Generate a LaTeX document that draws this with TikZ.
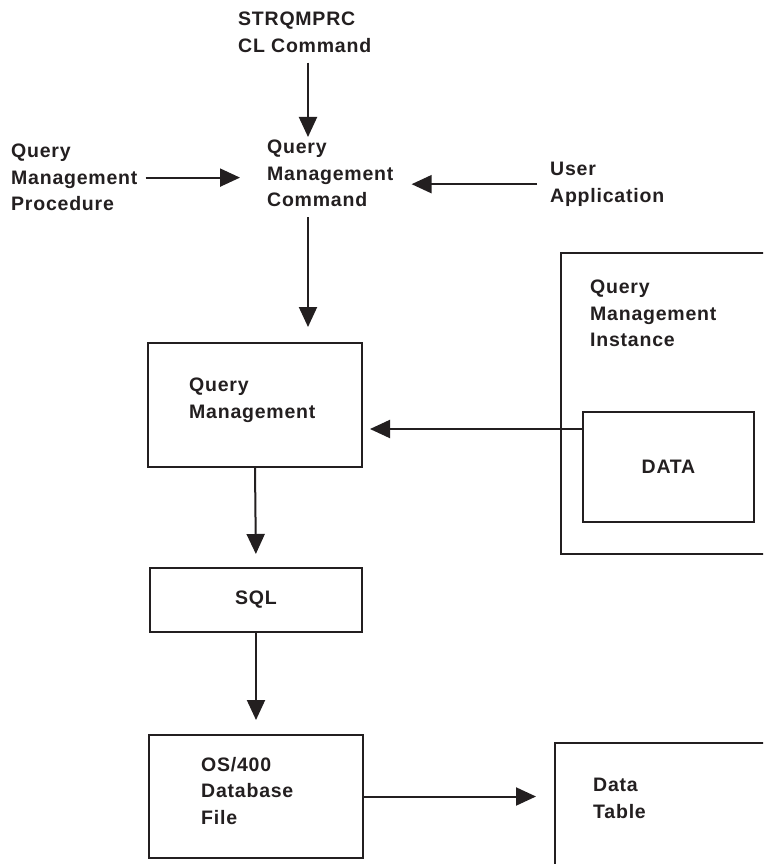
\documentclass[tikz,border=0pt]{standalone}
\usepackage{fontspec}
\setmainfont[LetterSpace=4]{Liberation Sans}
\usetikzlibrary{arrows.meta}
\definecolor{ink}{RGB}{35,31,32}
\tikzset{
  txt/.style={inner sep=0pt, align=left, anchor=north west, text=ink,
    font=\fontsize{19.5}{26.5}\selectfont\bfseries},
  box/.style={draw=ink, line width=2pt, inner sep=0pt, text=ink,
    font=\fontsize{19.5}{26.5}\selectfont\bfseries},
  arr/.style={draw=ink, line width=2pt, -{Triangle[length=20pt,width=18pt]}}
}
\begin{document}
\begin{tikzpicture}[x=1pt,y=-1pt]
\useasboundingbox (0,0) rectangle (763,864);
\clip (0,0) rectangle (763,864);
\fill[white] (0,0) rectangle (763,864);
% text nodes
\node[txt] (cl)   at (238,12)  {STRQMPRC\\CL Command};
\node[txt] (qmc)  at (267,140) {Query\\Management\\Command};
\node[txt] (qmp)  at (11,144)  {Query\\Management\\Procedure};
\node[txt] (user) at (550,162) {User\\Application};
% boxes
\node[box, minimum width=214pt, minimum height=124pt] (qm) at (255,405) {};
\node[txt] (qmt) at (189,378) {Query\\Management};
\node[box, minimum width=214pt, minimum height=301pt] (inst) at (668,403.5) {};
\node[txt] (instt) at (590,280) {Query\\Management\\Instance};
\node[box, minimum width=171pt, minimum height=110pt] (data) at (668.5,467) {DATA};
\node[box, minimum width=212pt, minimum height=64pt] (sql) at (256,600) {SQL};
\node[box, minimum width=214pt, minimum height=123pt] (os) at (256,796.5) {};
\node[txt] (ost) at (201,757) {OS/400\\Database\\File};
\node[box, minimum width=225pt, minimum height=157pt] (dt) at (667.5,821.5) {};
\node[txt] (dtt) at (593,778) {Data\\Table};
% connectors
\coordinate (vx) at (308,0);
\coordinate (dout) at ([yshift=38pt]data.west);
\draw[arr, shorten <=10pt, shorten >=3pt] (cl.south -| vx) -- (qmc.north -| vx);
\draw[arr, shorten <=8pt, shorten >=27pt] (qmp.east) -- (qmc.west |- qmp.east);
\draw[arr, shorten <=13pt, shorten >=18pt] (user.west) -- (qmc.east |- user.west);
\draw[arr, shorten <=10pt, shorten >=15pt] (qmc.south -| vx) -- (qm.north -| vx);
\draw[arr, shorten >=7pt] (dout) -- (qm.east |- dout);
\draw[arr, shorten >=13pt] (qm.south) -- (sql.north);
\draw[arr, shorten >=14pt] (sql.south) -- (os.north);
\draw[arr, shorten >=18pt] (os.east) -- (dt.west |- os.east);
\end{tikzpicture}
\end{document}
